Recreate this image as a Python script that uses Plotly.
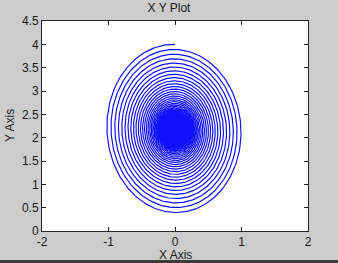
import numpy as np
import plotly.graph_objects as go

# Values (spiral geometry)
center_xy = [0.0, 2.17]          # point the spiral winds into
start_semi_axes = [1.04, 1.83]   # x / y half-widths of the outermost turn
decay_per_turn = [0.94]          # ratio of successive turn sizes
n_turns = [80]
tilt = [-0.025]

x_ticks = [-2, -1, 0, 1, 2]
y_ticks = [0, 0.5, 1, 1.5, 2, 2.5, 3, 3.5, 4, 4.5]

theta = np.linspace(0, n_turns[0] * 2 * np.pi, n_turns[0] * 240 + 1)
scale = decay_per_turn[0] ** (theta / (2 * np.pi))
xs = center_xy[0] - start_semi_axes[0] * scale * np.sin(theta)
ys = center_xy[1] + start_semi_axes[1] * scale * np.cos(theta + tilt[0])

fig = go.Figure()
fig.add_trace(go.Scatter(x=xs, y=ys, mode="lines",
                         line=dict(color="#1010ff", width=1.2),
                         hoverinfo="skip", showlegend=False))

font_main = dict(family="Liberation Sans, Arial", size=12, color="#1a1a1a")
axis_common = dict(showline=True, mirror="ticks", linecolor="#262626", linewidth=1,
                   ticks="inside", ticklen=4, tickcolor="#262626",
                   showgrid=False, zeroline=False, tickfont=font_main)

fig.update_layout(
    width=338, height=263,
    margin=dict(l=42, r=30, t=21, b=32),
    paper_bgcolor="#cccccc", plot_bgcolor="#ffffff",
    title=dict(text="X Y Plot", x=0.5, xanchor="center", y=1 - 8 / 263, yanchor="middle",
               font=font_main),
    xaxis=dict(range=[-2, 2], tickvals=x_ticks, ticktext=[str(v) for v in x_ticks], **axis_common),
    yaxis=dict(range=[0, 4.5], tickvals=y_ticks, ticktext=[f"{v:g}" for v in y_ticks], **axis_common),
    annotations=[
        dict(text="X Axis", xref="paper", yref="paper", x=0.5, y=-(255 - 231) / 210,
             xanchor="center", yanchor="middle", showarrow=False, font=font_main),
        dict(text="Y Axis", xref="paper", yref="paper", x=(10 - 42) / 266, y=0.5,
             xanchor="center", yanchor="middle", showarrow=False, textangle=-90,
             font=font_main),
    ],
    shapes=[
        dict(type="rect", xref="paper", yref="paper", x0=-0.2, x1=1.2,
             y0=-(263 - 231) / 210 - 0.02, y1=-(260 - 231) / 210,
             fillcolor="#3c3c3c", line=dict(width=0), layer="above"),
    ],
)

fig.write_html("out.html")
